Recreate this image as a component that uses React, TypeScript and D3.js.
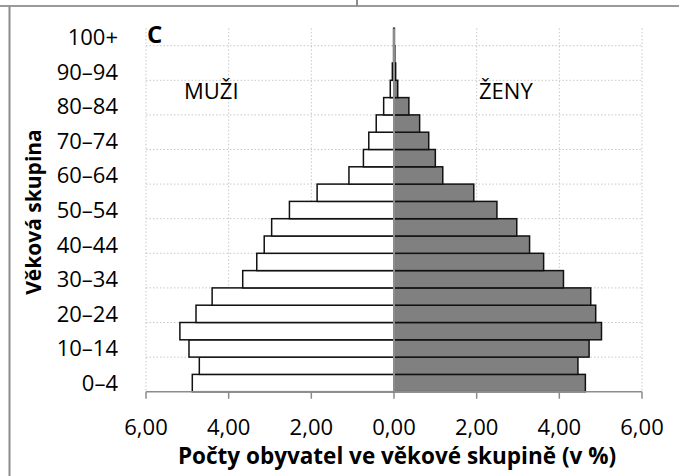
import * as d3 from "d3";

// age groups from the youngest (bottom) to the oldest (top)
const ageGroups = [
    "0–4", "5–9", "10–14", "15–19", "20–24", "25–29", "30–34", "35–39", "40–44", "45–49",
    "50–54", "55–59", "60–64", "65–69", "70–74", "75–79", "80–84", "85–89", "90–94", "95–99", "100+",
];
// share of population in %
const men = [4.88, 4.71, 4.96, 5.18, 4.79, 4.40, 3.66, 3.32, 3.14, 2.96, 2.53, 1.86, 1.09, 0.74, 0.61, 0.43, 0.25, 0.09, 0.04, 0.01, 0.01];
const women = [4.63, 4.45, 4.72, 5.02, 4.88, 4.76, 4.10, 3.62, 3.28, 2.97, 2.49, 1.93, 1.18, 1.00, 0.84, 0.62, 0.36, 0.09, 0.04, 0.02, 0.01];
const xTicks = [-6, -4, -2, 0, 2, 4, 6];

const width = 679;
const height = 476;
const plotLeft = 146;
const plotRight = 642;
const plotTop = 28.4;
const plotBottom = 391.7;
const font = "'Open Sans', 'Noto Sans', sans-serif";

export default function App() {
    const x = d3.scaleLinear([-6, 6], [plotLeft, plotRight]);
    const y = d3.scaleBand(ageGroups, [plotBottom, plotTop]).padding(0);
    const bw = y.bandwidth();
    const fmt = (v: number) => Math.abs(v).toFixed(2).replace(".", ",");

    return (
        <svg width={width} height={height} style={{ position: "absolute", left: 0, top: 0 }}>
            <rect width={width} height={height} fill="white" />

            {/* frame pieces */}
            <line x1={0} x2={width} y1={6} y2={6} stroke="#9a9a9a" strokeWidth={2} />
            <line x1={9.5} x2={9.5} y1={6} y2={height} stroke="#8c8c8c" strokeWidth={2} />
            <line x1={357} x2={357} y1={0} y2={6} stroke="#8c8c8c" strokeWidth={2} />

            {/* gridlines */}
            <g stroke="#c8c8c8" strokeWidth={1} strokeDasharray="1.5 2">
                {xTicks.filter(t => t !== 0).map(t => (
                    <line key={t} x1={x(t)} x2={x(t)} y1={plotTop} y2={plotBottom} />
                ))}
                {ageGroups.map((g, i) => i % 2 === 1 ? (
                    <line key={g} x1={plotLeft} x2={plotRight} y1={y(g)!} y2={y(g)!} />
                ) : null)}
            </g>

            {/* bars */}
            <g stroke="#111" strokeWidth={1.5}>
                {ageGroups.map((g, i) => (
                    <rect key={"m" + g} x={x(-men[i])} y={y(g)!} width={x(0) - x(-men[i])} height={bw} fill="white" />
                ))}
                {ageGroups.map((g, i) => (
                    <rect key={"w" + g} x={x(0)} y={y(g)!} width={x(women[i]) - x(0)} height={bw} fill="#808080" />
                ))}
            </g>

            {/* axes */}
            <line x1={x(0)} x2={x(0)} y1={plotTop} y2={plotBottom} stroke="#8c8c8c" strokeWidth={2} />
            <g stroke="#8c8c8c" strokeWidth={1.5}>
                <line x1={plotLeft} x2={plotRight} y1={plotBottom} y2={plotBottom} />
                {xTicks.map(t => (
                    <line key={t} x1={x(t)} x2={x(t)} y1={plotBottom} y2={plotBottom + 7} />
                ))}
            </g>

            <g fontFamily={font} fontSize={22} fill="#000">
                {xTicks.map(t => (
                    <text key={t} x={x(t)} y={435} textAnchor="middle">{fmt(t)}</text>
                ))}
                {ageGroups.map((g, i) => i % 2 === 0 ? (
                    <text key={g} x={118} y={y(g)! + bw / 2 + 8} textAnchor="end">{g}</text>
                ) : null)}
                <text x={184} y={99} fontSize={22}>MUŽI</text>
                <text x={479} y={99} fontSize={22}>ŽENY</text>
                <text x={147} y={43} fontSize={24} fontWeight="bold">C</text>
                <text x={397} y={464} textAnchor="middle" fontWeight="bold" fontSize={22.5}>
                    Počty obyvatel ve věkové skupině (v %)
                </text>
                <text transform={`translate(41,212) rotate(-90)`} textAnchor="middle" fontWeight="bold" fontSize={21}>
                    Věková skupina
                </text>
            </g>
        </svg>
    );
}
